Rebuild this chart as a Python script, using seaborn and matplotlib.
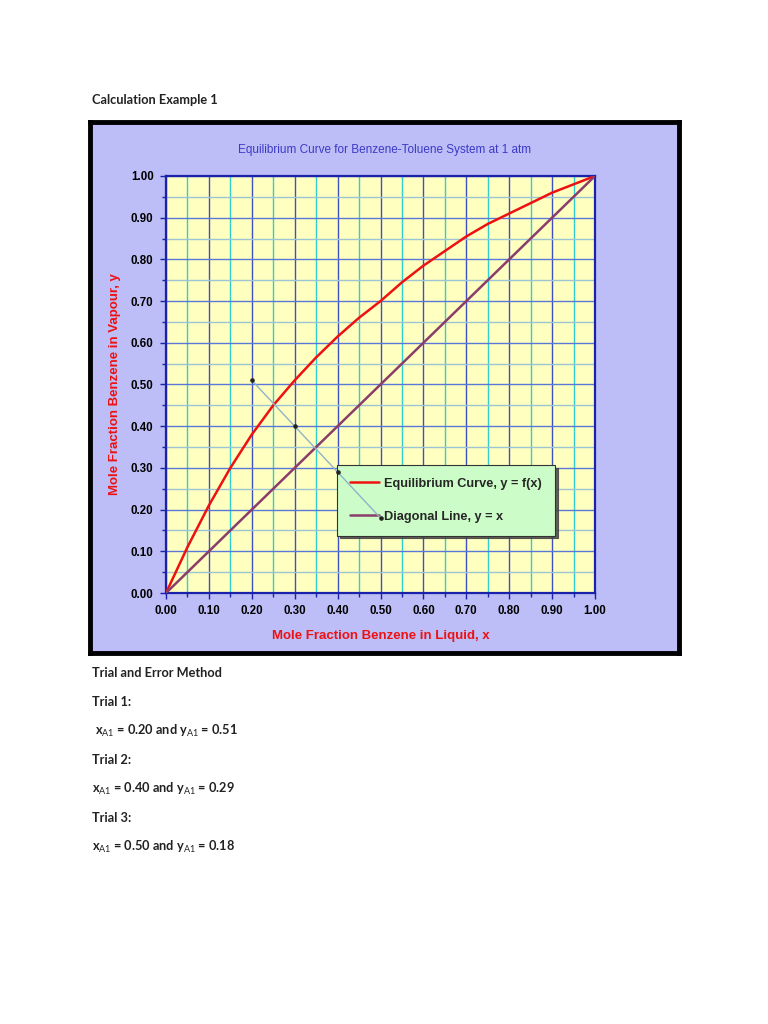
import numpy as np
import pandas as pd
import matplotlib
matplotlib.use("Agg")
import matplotlib.pyplot as plt
from matplotlib.ticker import MultipleLocator, FormatStrFormatter
import seaborn as sns

sns.set_theme(style="white")
plt.rcParams["font.family"] = ["Liberation Sans", "DejaVu Sans"]
plt.rcParams["mathtext.fontset"] = "custom"
plt.rcParams["mathtext.rm"] = "Lato"
plt.rcParams["mathtext.it"] = "Lato"
plt.rcParams["mathtext.bf"] = "Lato:bold"

# ---------------------------------------------------------
# Data
# ---------------------------------------------------------
x_liquid = [0.00, 0.05, 0.10, 0.15, 0.20, 0.25, 0.30, 0.35, 0.40, 0.45, 0.50,
            0.55, 0.60, 0.65, 0.70, 0.75, 0.80, 0.85, 0.90, 0.95, 1.00]
y_equilibrium = [0.00, 0.11, 0.21, 0.30, 0.38, 0.45, 0.51, 0.565, 0.615, 0.66, 0.70,
                 0.745, 0.785, 0.82, 0.855, 0.885, 0.91, 0.935, 0.96, 0.98, 1.00]
diag_x = [0.0, 1.0]
diag_y = [0.0, 1.0]
trial_x = [0.20, 0.30, 0.40, 0.50]
trial_y = [0.51, 0.40, 0.29, 0.18]

chart_title = "Equilibrium Curve for Benzene-Toluene System at 1 atm"
x_label = "Mole Fraction Benzene in Liquid, x"
y_label = "Mole Fraction Benzene in Vapour, y"
eq_label = "Equilibrium Curve, y = f(x)"
diag_label = "Diagonal Line, y = x"

page_heading = "Calculation Example 1"
page_lines = [
    "Trial and Error Method",
    "Trial 1:",
    r" x$_{\mathrm{A1}}$ = 0.20 and y$_{\mathrm{A1}}$ = 0.51",
    "Trial 2:",
    r"x$_{\mathrm{A1}}$ = 0.40 and y$_{\mathrm{A1}}$ = 0.29",
    "Trial 3:",
    r"x$_{\mathrm{A1}}$ = 0.50 and y$_{\mathrm{A1}}$ = 0.18",
]

W, H = 768, 1024
fig = plt.figure(figsize=(W / 100, H / 100), dpi=100)
fig.patch.set_facecolor("white")


def fx(px):
    return px / W


def fy(py):
    return 1 - py / H


# ---------------------------------------------------------
# Chart frame (lavender panel with thick black border)
# ---------------------------------------------------------
bg = fig.add_axes([fx(90), fy(653), fx(679) - fx(90), fy(122) - fy(653)], zorder=-1)
bg.set_facecolor("#bdbdf7")
bg.set_xticks([])
bg.set_yticks([])
for side in bg.spines.values():
    side.set_color("black")
    side.set_linewidth(3.5)

ax = fig.add_axes([fx(166), fy(593), fx(595) - fx(166), fy(176) - fy(593)], zorder=1)
ax.set_facecolor("#ffffc0")

df_eq = pd.DataFrame({"x": x_liquid, "y": y_equilibrium})
df_diag = pd.DataFrame({"x": diag_x, "y": diag_y})
df_trial = pd.DataFrame({"x": trial_x, "y": trial_y})

sns.lineplot(data=df_eq, x="x", y="y", ax=ax, color="#ee1111", linewidth=1.8,
             label=eq_label, zorder=4)
sns.lineplot(data=df_diag, x="x", y="y", ax=ax, color="#8a3d6a", linewidth=1.8,
             label=diag_label, zorder=4)
sns.lineplot(data=df_trial, x="x", y="y", ax=ax, color="#8fb3c8", linewidth=1.0,
             marker="o", markersize=2.5, markerfacecolor="#222222",
             markeredgecolor="#222222", zorder=6, legend=False)

ax.set_xlim(0, 1)
ax.set_ylim(0, 1)
ax.xaxis.set_major_locator(MultipleLocator(0.1))
ax.xaxis.set_minor_locator(MultipleLocator(0.05))
ax.yaxis.set_major_locator(MultipleLocator(0.1))
ax.yaxis.set_minor_locator(MultipleLocator(0.05))
ax.xaxis.set_major_formatter(FormatStrFormatter("%.2f"))
ax.yaxis.set_major_formatter(FormatStrFormatter("%.2f"))

ax.grid(which="major", axis="x", color="#4050c0", linewidth=1.0)
ax.grid(which="minor", axis="x", color="#2fcfd0", linewidth=1.0)
ax.grid(which="major", axis="y", color="#5a78d8", linewidth=1.0)
ax.grid(which="minor", axis="y", color="#9cc4d4", linewidth=1.0)
ax.set_axisbelow(True)

for side in ["left", "right", "top", "bottom"]:
    ax.spines[side].set_color("#1a22aa")
    ax.spines[side].set_linewidth(1.6)

ax.tick_params(axis="both", which="major", direction="out", length=4, width=1,
               color="#1a22aa", labelsize=8.3, pad=5, left=True, bottom=True)
ax.tick_params(axis="both", which="minor", direction="out", length=3, width=1,
               color="#1a22aa", left=True, bottom=True)
for lab in ax.get_xticklabels() + ax.get_yticklabels():
    lab.set_fontweight("bold")
    lab.set_color("black")

ax.set_xlabel(x_label, color="#ee1111", fontsize=9.5, fontweight="bold", labelpad=9)
ax.set_ylabel(y_label, color="#ee1111", fontsize=9.5, fontweight="bold", labelpad=7)

fig.text(fx(385), fy(150), chart_title, ha="center", va="center",
         color="#3a3ac8", fontsize=8.5)

leg = ax.legend(loc="upper left", bbox_to_anchor=(0.399, 0.307), frameon=True,
                fancybox=False, shadow={"color": "#444444", "alpha": 0.85},
                facecolor="#ccfcc8", edgecolor="#333333", framealpha=1,
                prop={"weight": "bold", "size": 9.2, "family": "Liberation Sans"},
                labelspacing=1.65, handlelength=2.3, handletextpad=0.4,
                borderpad=1.0, borderaxespad=0)
leg.get_frame().set_linewidth(0.8)
leg.set_zorder(5)

# ---------------------------------------------------------
# Page text around the chart
# ---------------------------------------------------------
doc_font = ["Lato", "DejaVu Sans"]
fig.text(fx(92), fy(100), page_heading, ha="left", va="center",
         fontsize=9.2, fontweight="bold", family=doc_font, color="#222222")

line_y = [673, 702, 731, 760, 789, 818, 847]
for txt, py in zip(page_lines, line_y):
    fig.text(fx(92), fy(py), txt, ha="left", va="center", fontsize=9.2,
             fontweight="bold", family=doc_font, color="#222222")

fig.savefig("out.png", dpi=100, facecolor="white")
